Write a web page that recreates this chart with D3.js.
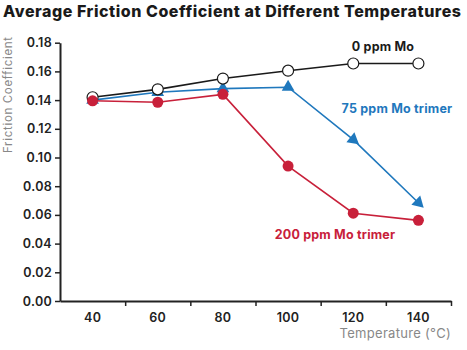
<!DOCTYPE html>
<meta charset="utf-8">
<style>
  body { margin: 0; background: #fff; }
  text { font-family: "Inter", "Roboto", sans-serif; }
</style>
<body>
  <script src="https://d3js.org/d3.v7.min.js"></script>
  <script>
    var temps = ["40", "60", "80", "100", "120", "140"];
    var mo0 = [0.142, 0.1475, 0.155, 0.1605, 0.1655, 0.1655];
    var mo75 = [0.140, 0.1455, 0.148, 0.149, 0.1125, 0.0685];
    var mo200 = [0.1395, 0.1385, 0.144, 0.094, 0.0612, 0.0562];
    var yTicks = [0, 0.02, 0.04, 0.06, 0.08, 0.10, 0.12, 0.14, 0.16, 0.18];

    var W = 467, H = 350;
    var margin = { top: 42.7, right: 16, bottom: 49, left: 60 };

    var svg = d3.select("body").append("svg")
      .attr("width", W)
      .attr("height", H);

    var x = d3.scaleBand().domain(temps).range([margin.left, W - margin.right]);
    var xEdge = d3.scaleLinear().domain([0, temps.length]).range([margin.left, W - margin.right]);
    var y = d3.scaleLinear().domain([0, 0.18]).range([H - margin.bottom, margin.top]);

    // title
    svg.append("text")
      .attr("x", 3)
      .attr("y", 16.5)
      .attr("textLength", 458)
      .attr("lengthAdjust", "spacing")
      .style("font-size", "16px")
      .style("font-weight", "800")
      .attr("fill", "#1a1a1a")
      .text("Average Friction Coefficient at Different Temperatures");

    // y axis
    var yAxis = svg.append("g")
      .attr("transform", "translate(" + margin.left + ",0)")
      .call(d3.axisLeft(y).tickValues(yTicks).tickFormat(d3.format(".2f")).tickSize(5).tickSizeOuter(0));
    yAxis.select(".domain").attr("stroke", "#222").attr("stroke-width", 2);
    yAxis.selectAll(".tick line").attr("stroke", "#222").attr("stroke-width", 1.5);
    yAxis.selectAll(".tick text")
      .attr("x", -8)
      .style("font-size", "12.5px")
      .style("font-weight", "600")
      .style("letter-spacing", "0.3px")
      .attr("fill", "#222");

    // x axis: tick marks at band edges, labels at band centres
    var xAxis = svg.append("g")
      .attr("transform", "translate(0," + y(0) + ")")
      .call(d3.axisBottom(xEdge).tickValues(d3.range(1, temps.length + 1)).tickFormat("").tickSize(5).tickSizeOuter(0));
    xAxis.select(".domain").attr("stroke", "#222").attr("stroke-width", 2);
    xAxis.selectAll(".tick line").attr("stroke", "#222").attr("stroke-width", 1.5);

    var xLab = svg.append("g")
      .attr("transform", "translate(0," + y(0) + ")")
      .call(d3.axisBottom(x).tickSize(0));
    xLab.select(".domain").remove();
    xLab.selectAll(".tick text")
      .attr("dy", "1.45em")
      .style("font-size", "12.5px")
      .style("font-weight", "600")
      .style("letter-spacing", "0.3px")
      .attr("fill", "#222");

    // axis titles
    svg.append("text")
      .attr("transform", "translate(12,95) rotate(-90)")
      .attr("text-anchor", "middle")
      .attr("textLength", 116)
      .attr("lengthAdjust", "spacing")
      .style("font-size", "11.5px")
      .attr("fill", "#888")
      .text("Friction Coefficient");

    svg.append("text")
      .attr("x", W - margin.right)
      .attr("y", 338)
      .attr("text-anchor", "end")
      .style("font-size", "13px")
      .style("letter-spacing", "0.3px")
      .attr("fill", "#888")
      .text("Temperature (°C)");

    function pts(vals) {
      return vals.map(function(v, i) { return { t: temps[i], v: v }; });
    }
    var line = d3.line()
      .x(function(d) { return x(d.t) + x.bandwidth() / 2; })
      .y(function(d) { return y(d.v); });

    var series = [
      { vals: mo0, color: "#1a1a1a" },
      { vals: mo75, color: "#1f78bd" },
      { vals: mo200, color: "#c8203a" }
    ];

    series.forEach(function(s) {
      svg.append("path")
        .datum(pts(s.vals))
        .attr("d", line)
        .attr("fill", "none")
        .attr("stroke", s.color)
        .attr("stroke-width", 1.6);
    });

    // markers drawn after lines: blue first, then open circles, then red
    var tri = d3.symbol().type(d3.symbolTriangle).size(70);
    var d75 = pts(mo75);
    svg.selectAll(".tri").data(d75).enter().append("path")
      .attr("d", tri)
      .attr("fill", "#1f78bd")
      .attr("transform", function(d, i) {
        var cx = x(d.t) + x.bandwidth() / 2, cy = y(d.v);
        var rot = 0;
        if (i > 0) {
          var p = d75[i - 1];
          var dx = cx - (x(p.t) + x.bandwidth() / 2), dy = cy - y(p.v);
          var a = Math.atan2(dy, dx) * 180 / Math.PI;
          if (Math.abs(a) > 20) rot = a + 90;
        }
        return "translate(" + cx + "," + cy + ") rotate(" + rot + ")";
      });

    svg.selectAll(".open").data(pts(mo0)).enter().append("circle")
      .attr("cx", function(d) { return x(d.t) + x.bandwidth() / 2; })
      .attr("cy", function(d) { return y(d.v); })
      .attr("r", 5.5)
      .attr("fill", "#fff")
      .attr("stroke", "#1a1a1a")
      .attr("stroke-width", 1.2);

    svg.selectAll(".dot").data(pts(mo200)).enter().append("circle")
      .attr("cx", function(d) { return x(d.t) + x.bandwidth() / 2; })
      .attr("cy", function(d) { return y(d.v); })
      .attr("r", 5.5)
      .attr("fill", "#c8203a");

    // series labels
    svg.append("text")
      .attr("x", 383).attr("y", 51)
      .attr("text-anchor", "middle")
      .style("font-size", "12.5px").style("font-weight", "700")
      .style("letter-spacing", "0.2px")
      .attr("fill", "#1a1a1a")
      .text("0 ppm Mo");

    svg.append("text")
      .attr("x", 397).attr("y", 113)
      .attr("text-anchor", "middle")
      .style("font-size", "12.5px").style("font-weight", "700")
      .style("letter-spacing", "0.2px")
      .attr("fill", "#1f78bd")
      .text("75 ppm Mo trimer");

    svg.append("text")
      .attr("x", 335).attr("y", 239)
      .attr("text-anchor", "middle")
      .style("font-size", "12.5px").style("font-weight", "700")
      .style("letter-spacing", "0.2px")
      .attr("fill", "#c8203a")
      .text("200 ppm Mo trimer");
  </script>
</body>
